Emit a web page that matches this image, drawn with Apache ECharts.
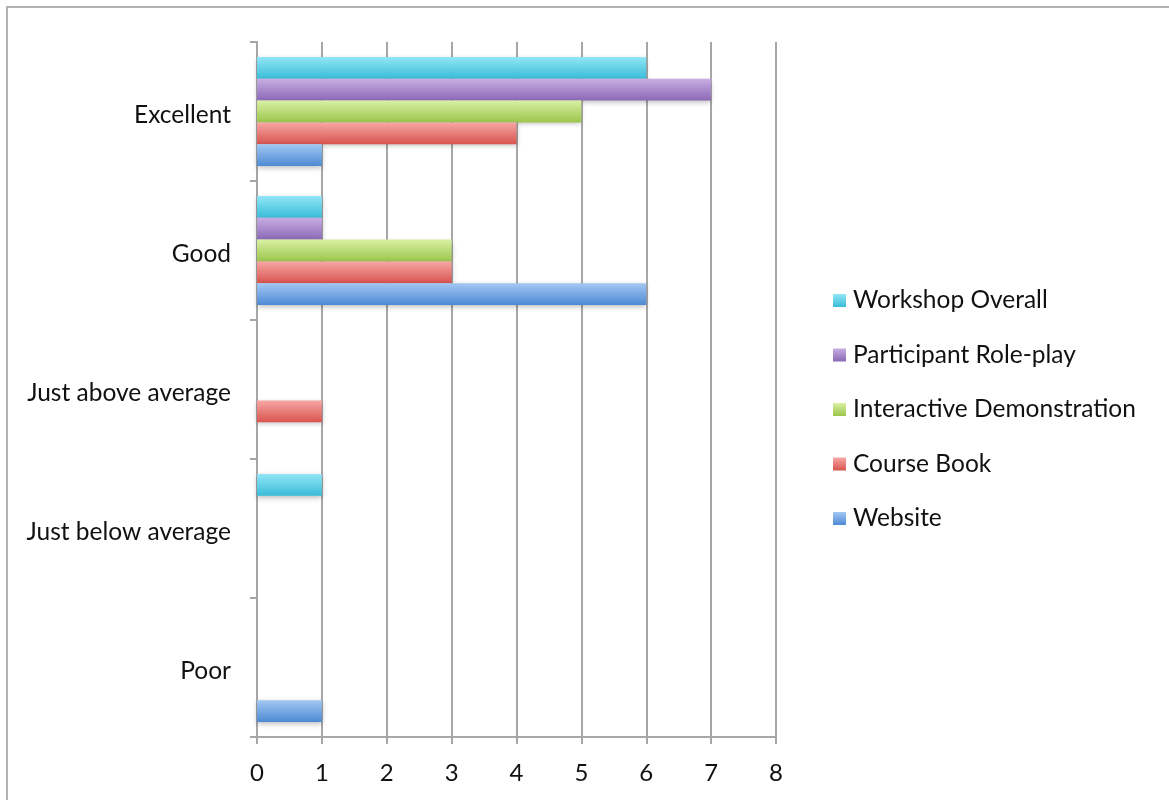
<!DOCTYPE html>
<html>
<head>
<meta charset="utf-8">
<script src="https://cdn.jsdelivr.net/npm/echarts@6/dist/echarts.min.js"></script>
<style>
html,body{margin:0;padding:0;background:#fff;}
#chart{width:1169px;height:800px;}
</style>
</head>
<body>
<div id="chart"></div>
<script>
const categories = ['Excellent', 'Good', 'Just above average', 'Just below average', 'Poor'];
const workshopOverall = [6, 1, 0, 1, 0];
const rolePlay = [7, 1, 0, 0, 0];
const interactiveDemo = [5, 3, 0, 0, 0];
const courseBook = [4, 3, 1, 0, 0];
const website = [1, 6, 0, 0, 1];
const xTicks = [0, 1, 2, 3, 4, 5, 6, 7, 8];

const FONT = 'Lato';
function grad(top, bottom) {
  return new echarts.graphic.LinearGradient(0, 0, 0, 1, [
    { offset: 0, color: top },
    { offset: 1, color: bottom }
  ]);
}
const seriesDefs = [
  { name: 'Workshop Overall', data: workshopOverall, top: '#92e6f6', bottom: '#39bcd8', icon: '#5fd0e8' },
  { name: 'Participant Role-play', data: rolePlay, top: '#c8aee3', bottom: '#8b68b5', icon: '#a98bd0' },
  { name: 'Interactive Demonstration', data: interactiveDemo, top: '#d9f0a3', bottom: '#9cc64c', icon: '#b5dc74' },
  { name: 'Course Book', data: courseBook, top: '#f7a7a4', bottom: '#d8544f', icon: '#e97470' },
  { name: 'Website', data: website, top: '#a3c8f3', bottom: '#4d8ad4', icon: '#6aa0e2' }
];

const chart = echarts.init(document.getElementById('chart'));
chart.setOption({
  animation: false,
  backgroundColor: '#fff',
  color: seriesDefs.map(s => s.icon),
  graphic: [{
    type: 'rect',
    shape: { x: 7, y: 7, width: 1200, height: 900 },
    style: { fill: 'none', stroke: '#b3b3b3', lineWidth: 2 },
    silent: true
  }],
  grid: { left: 257, right: 393, top: 42, bottom: 63, containLabel: false },
  legend: {
    orient: 'vertical',
    left: 833,
    top: 288,
    padding: 0,
    itemWidth: 13,
    itemHeight: 13,
    itemGap: 29.5,
    icon: 'rect',
    data: seriesDefs.map(s => s.name),
    textStyle: { fontFamily: FONT, fontSize: 24.5, lineHeight: 24, color: '#111', padding: [0, 0, 0, 2] }
  },
  xAxis: {
    type: 'value',
    min: 0,
    max: 8,
    interval: 1,
    axisLine: { show: true, lineStyle: { color: '#a6a6a6', width: 2 } },
    axisTick: { show: true, length: 7, lineStyle: { color: '#a6a6a6', width: 2 } },
    axisLabel: {
      fontFamily: FONT, fontSize: 24, color: '#111', margin: 24,
      formatter: v => String(xTicks[v])
    },
    splitLine: { show: true, lineStyle: { color: '#a6a6a6', width: 2 } }
  },
  yAxis: {
    type: 'category',
    data: categories,
    inverse: true,
    axisLine: { show: true, lineStyle: { color: '#a6a6a6', width: 2 } },
    axisTick: { show: true, length: 7, lineStyle: { color: '#a6a6a6', width: 2 } },
    axisLabel: {
      margin: 26,
      formatter: v => '{c|' + v + '}',
      rich: {
        c: { fontFamily: FONT, fontSize: 24.5, lineHeight: 24, color: '#111', padding: [8, 0, 0, 0] }
      }
    },
    splitLine: { show: false }
  },
  series: seriesDefs.map(s => ({
    name: s.name,
    type: 'bar',
    data: s.data,
    barGap: '0%',
    barCategoryGap: '21.6%',
    itemStyle: {
      color: grad(s.top, s.bottom),
      shadowColor: 'rgba(0,0,0,0.25)',
      shadowBlur: 5,
      shadowOffsetY: 2
    }
  }))
});
</script>
</body>
</html>
